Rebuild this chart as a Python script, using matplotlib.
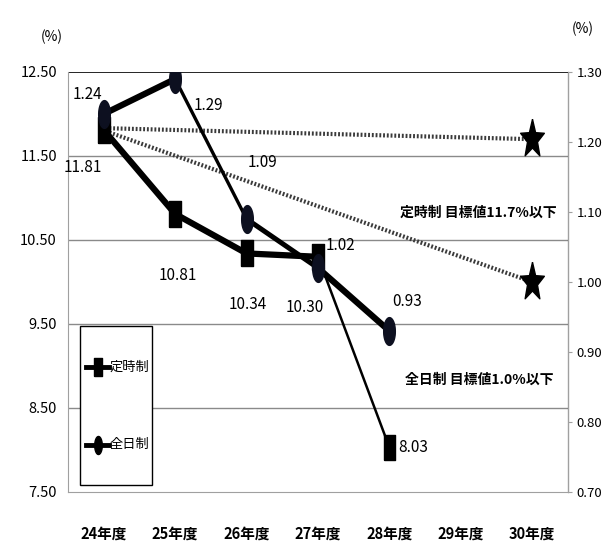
import numpy as np
import matplotlib
matplotlib.use("Agg")
import matplotlib.pyplot as plt
from matplotlib.lines import Line2D
from matplotlib.patches import Rectangle

plt.rcParams['font.family'] = ['Noto Sans CJK JP', 'DejaVu Sans']

# データ
years = ['24年度', '25年度', '26年度', '27年度', '28年度', '29年度', '30年度']
teiji = [11.81, 10.81, 10.34, 10.30, 8.03]      # 定時制 (左軸)
zennichi = [1.24, 1.29, 1.09, 1.02, 0.93]       # 全日制 (右軸)
teiji_target = 11.7
zennichi_target = 1.00
left_ticks = [7.50, 8.50, 9.50, 10.50, 11.50, 12.50]
right_ticks = [0.70, 0.80, 0.90, 1.00, 1.10, 1.20, 1.30]

# 線の太さ（区間ごと）
teiji_lw = [4.5, 4.5, 4.5, 1.8]
zennichi_lw = [4.5, 2.4, 3.6, 4.5]

L_LIM = (7.5, 12.5)
R_LIM = (0.70, 1.30)

def r2l(v):
    # 右軸の値を左軸の目盛りに換算
    return L_LIM[0] + (v - R_LIM[0]) / (R_LIM[1] - R_LIM[0]) * (L_LIM[1] - L_LIM[0])

fig = plt.figure(figsize=(6.05, 5.59), dpi=100)
ax = fig.add_axes([0.1124, 0.1199, 0.8264, 0.7513])
ax2 = ax.twinx()
x = np.arange(len(years))

ax.set_xlim(-0.5, 6.5)
ax.set_ylim(*L_LIM)
ax2.set_ylim(*R_LIM)

# 横線
for v in left_ticks[1:-1]:
    ax.axhline(v, color='#8a8a8a', lw=1.0, zorder=0)
ax.axhline(12.5, color='black', lw=1.2, zorder=1)

ax.spines['top'].set_visible(False)
ax2.spines['top'].set_visible(False)
ax.spines['left'].set_color('#a0a0a0')
ax.spines['bottom'].set_color('#a0a0a0')
ax2.spines['right'].set_color('#a0a0a0')
ax2.spines['left'].set_visible(False)
ax2.spines['bottom'].set_visible(False)

ax.set_xticks(x)
ax.set_xticklabels(years, fontsize=10.5, fontweight='bold')
ax.tick_params(axis='x', length=0, pad=24)
ax.set_yticks(left_ticks)
ax.set_yticklabels([f'{v:.2f}' for v in left_ticks], fontsize=10.5)
ax.tick_params(axis='y', length=0, pad=8)
ax2.set_yticks(right_ticks)
ax2.set_yticklabels([f'{v:.2f}' for v in right_ticks], fontsize=9.5)
ax2.tick_params(axis='y', length=3, color='#a0a0a0', pad=3)

# 縦長のマーカー
rect = [(-0.22, -0.5), (0.22, -0.5), (0.22, 0.5), (-0.22, 0.5), (-0.22, -0.5)]
t = np.linspace(0, 2 * np.pi, 40)
ell = list(zip(0.21 * np.cos(t), 0.5 * np.sin(t)))
ang = np.pi / 2 + np.arange(10) * np.pi / 5
rad = np.where(np.arange(10) % 2 == 0, 0.5, 0.21)
star = list(zip(0.62 * rad * np.cos(ang), rad * np.sin(ang)))
star.append(star[0])

# 目標値への点線
dot = dict(color='#3a3a3a', lw=3.0, linestyle=(0, (0.45, 0.45)), zorder=2)
ax.plot([x[0] + 0.08, x[6]], [teiji[0] + 0.02, teiji_target], **dot)
ax.plot([x[0] + 0.08, x[6]], [teiji[0] - 0.03, r2l(zennichi_target)], **dot)
ax.plot([x[6], x[6]], [teiji_target, r2l(zennichi_target)], ls='none',
        marker=star, ms=29, color='black', zorder=5)

for i in range(len(teiji) - 1):
    ax.plot(x[i:i + 2], teiji[i:i + 2], color='black', lw=teiji_lw[i],
            solid_capstyle='butt', zorder=3)
ax.plot(x[:len(teiji) - 1], teiji[:-1], ls='none', marker=rect, ms=19,
        color='black', zorder=4)
ax.plot(x[len(teiji) - 1], teiji[-1], ls='none', marker=rect, ms=18,
        color='black', zorder=4)

zl = [r2l(v) for v in zennichi]
for i in range(len(zl) - 1):
    ax.plot(x[i:i + 2], zl[i:i + 2], color='black', lw=zennichi_lw[i],
            solid_capstyle='butt', zorder=3)
ax.plot(x[:len(zl)], zl, ls='none', marker=ell, ms=20,
        color='#0d1020', zorder=4)

# データラベル
fs = 11
t_off = [(-0.29, -0.45), (0.04, -0.73), (0.02, -0.61), (-0.18, -0.60)]
for i, v in enumerate(teiji[:-1]):
    dx, dy = t_off[i]
    ax.text(x[i] + dx, v + dy, f'{v:.2f}', fontsize=fs,
            ha='center', va='center', zorder=6)
ax.text(x[4] + 0.13, teiji[4], f'{teiji[4]:.2f}', fontsize=fs,
        ha='left', va='center', zorder=6)
z_off = [(-0.23, 0.23), (0.46, -0.31), (0.22, 0.67), (0.31, 0.27), (0.25, 0.35)]
for i, v in enumerate(zennichi):
    dx, dy = z_off[i]
    ax.text(x[i] + dx, zl[i] + dy, f'{v:.2f}', fontsize=fs,
            ha='center', va='center', zorder=6)

ax.text(5.25, 10.83, '定時制 目標値11.7%以下', fontsize=10, fontweight='bold',
        ha='center', va='center')
ax.text(5.26, 8.83, '全日制 目標値1.0%以下', fontsize=10, fontweight='bold',
        ha='center', va='center')

fig.text(0.086, 0.934, '(%)', fontsize=10, ha='center', va='center')
fig.text(0.964, 0.948, '(%)', fontsize=10, ha='center', va='center')

# 凡例（枠と見本を個別に描く）
ax.add_patch(Rectangle((0.024, 0.0167), 0.144, 0.3786, transform=ax.transAxes,
                       facecolor='white', edgecolor='black', lw=1.0, zorder=7))
leg_items = [('定時制', rect, 0.2976), ('全日制', ell, 0.1119)]
for name, mk, yy in leg_items:
    ax.add_line(Line2D([0.036, 0.082], [yy, yy], transform=ax.transAxes,
                       color='black', lw=3.5, zorder=8))
    ax.add_line(Line2D([0.059], [yy], transform=ax.transAxes, ls='none',
                       marker=mk, ms=13, color='black', zorder=8))
    ax.text(0.083, yy, name, transform=ax.transAxes, fontsize=9.5,
            ha='left', va='center', zorder=8)

fig.savefig('out.png', dpi=100, facecolor='white')
